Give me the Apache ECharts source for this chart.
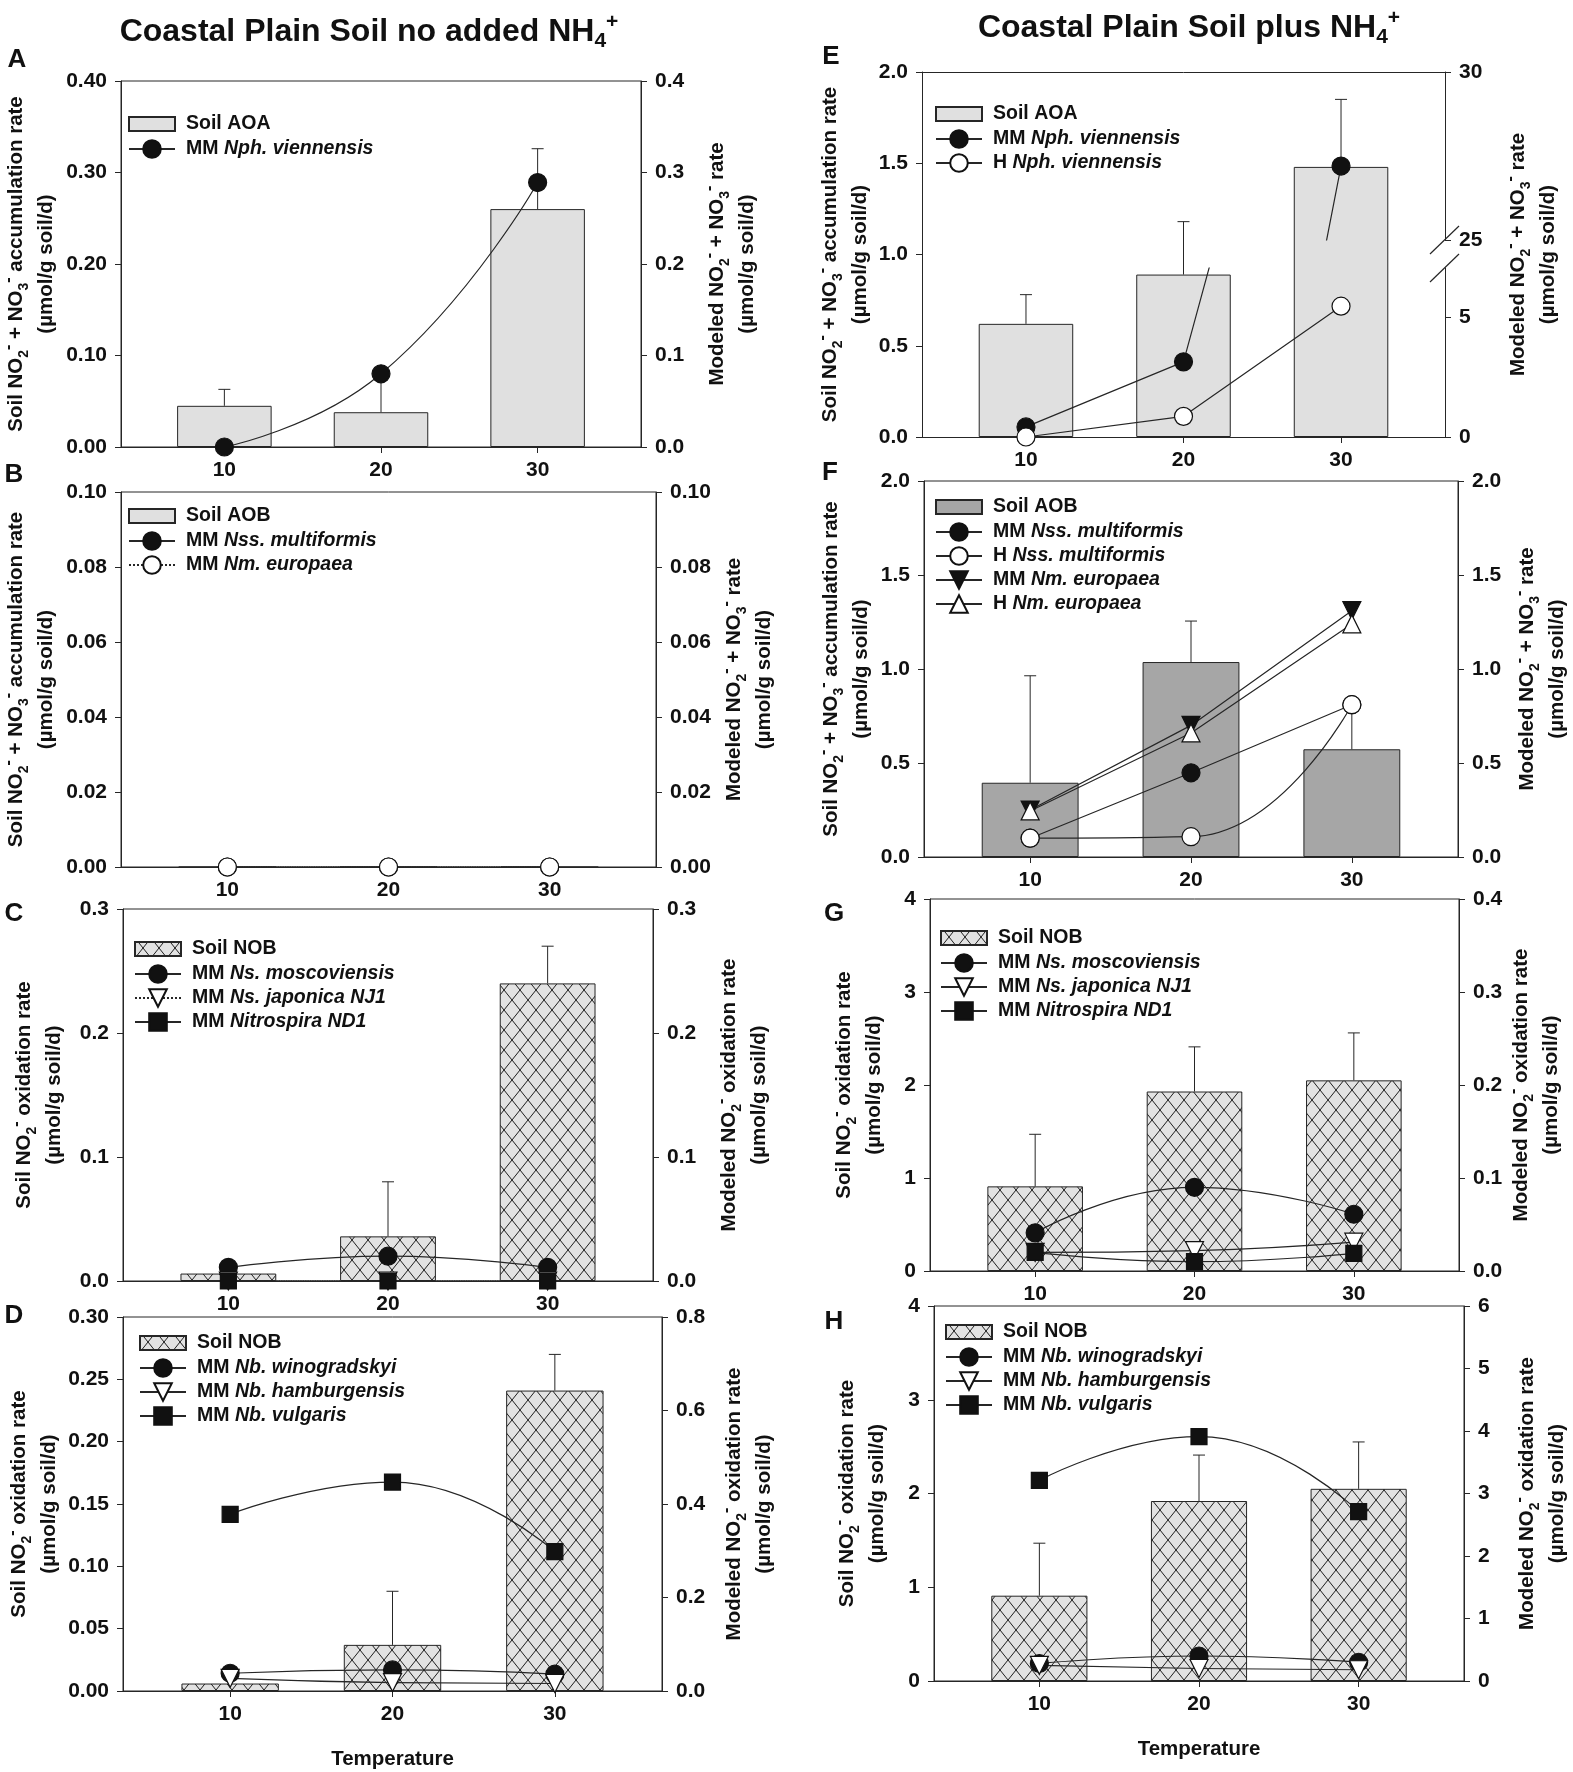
<!DOCTYPE html>
<html><head><meta charset="utf-8">
<script src="https://cdn.jsdelivr.net/npm/echarts@6/dist/echarts.min.js"></script>
<style>html,body{margin:0;padding:0;background:#fff}#c{width:1573px;height:1772px}</style>
</head><body><div id="c"></div>
<script>
// ---------------- DATA ----------------
const temps = [10, 20, 30];

// A  Coastal plain soil, no added NH4+ : AOA
const aSoilAOA   = [0.045, 0.038, 0.260];
const aSoilAOAHi = [0.063, 0.073, 0.326];
const aMMNph     = [0.000, 0.080, 0.289];

// B  AOB
const bSoilAOB = [0, 0, 0];
const bMMNss   = [0, 0, 0];
const bMMNm    = [0, 0, 0];

// C  NOB (Nitrospira)
const cSoilNOB   = [0.006, 0.036, 0.240];
const cSoilNOBHi = [null, 0.080, 0.270];
const cMMNsMosc  = [0.011, 0.020, 0.011];
const cMMNsJap   = [0, 0, 0];
const cMMND1     = [0, 0, 0];

// D  NOB (Nitrobacter)
const dSoilNOB   = [0.006, 0.037, 0.241];
const dSoilNOBHi = [null, 0.080, 0.270];
const dMMNbWino  = [0.038, 0.045, 0.036];
const dMMNbHamb  = [0.027, 0.018, 0.016];
const dMMNbVulg  = [0.378, 0.447, 0.298];

// E  plus NH4+ : AOA
const eSoilAOA   = [0.62, 0.89, 1.48];
const eSoilAOAHi = [0.78, 1.18, 1.85];
const eMMNph     = [0.42, 3.13, 27.2];
const eHNph      = [0.00, 0.86, 5.45];

// F  AOB
const fSoilAOB   = [0.395, 1.037, 0.573];
const fSoilAOBHi = [0.964, 1.255, 0.780];
const fMMNss     = [0.100, 0.448, 0.810];
const fHNss      = [0.100, 0.108, 0.810];
const fMMNm      = [0.250, 0.700, 1.310];
const fHNm       = [0.245, 0.660, 1.240];

// G  NOB (Nitrospira)
const gSoilNOB   = [0.91, 1.93, 2.05];
const gSoilNOBHi = [1.47, 2.41, 2.56];
const gMMNsMosc  = [0.041, 0.090, 0.061];
const gMMNsJap   = [0.020, 0.022, 0.031];
const gMMND1     = [0.020, 0.010, 0.019];

// H  NOB (Nitrobacter)
const hSoilNOB   = [0.91, 1.92, 2.05];
const hSoilNOBHi = [1.47, 2.41, 2.55];
const hMMNbWino  = [0.28, 0.40, 0.30];
const hMMNbHamb  = [0.25, 0.20, 0.18];
const hMMNbVulg  = [3.21, 3.91, 2.71];

// ---------------- STYLE / LAYOUT ----------------
const INK = '#262626';
const TXT = '#111111';
const FONT = '"Liberation Sans", Arial, Helvetica, sans-serif';
const XMIN = 3.4, XMAX = 36.6;
const BAR_UNITS = 6;
const TICK_FS = 21;

function hatchPattern() {
  const c = document.createElement('canvas');
  c.width = 16; c.height = 20;
  const g = c.getContext('2d');
  g.fillStyle = '#e2e2e2'; g.fillRect(0, 0, 16, 20);
  g.strokeStyle = '#1e1e1e'; g.lineWidth = 1;
  g.beginPath();
  g.moveTo(-8, -10); g.lineTo(24, 30);
  g.moveTo(24, -10); g.lineTo(-8, 30);
  g.stroke();
  return { image: c, repeat: 'repeat' };
}
const HATCH = hatchPattern();
const LIGHT = '#e0e0e0';
const DARK = '#a6a6a6';

const SUBSUP = {
  s: { fontSize: 14, fontWeight: 'bold', fontFamily: FONT, color: TXT, lineHeight: 18, verticalAlign: 'bottom' },
  p: { fontSize: 16, fontWeight: 'bold', fontFamily: FONT, color: TXT, lineHeight: 18, verticalAlign: 'top' }
};
const NAME_STYLE = { fontFamily: FONT, fontSize: 20.5, fontWeight: 'bold', color: TXT, lineHeight: 30, rich: SUBSUP };

const N_ACC  = 'Soil NO{s|2}{p|-} + NO{s|3}{p|-} accumulation rate\n(\u00b5mol/g soil/d)';
const N_MACC = 'Modeled NO{s|2}{p|-} + NO{s|3}{p|-} rate\n(\u00b5mol/g soil/d)';
const N_OX   = 'Soil NO{s|2}{p|-} oxidation rate\n(\u00b5mol/g soil/d)';
const N_MOX  = 'Modeled NO{s|2}{p|-} oxidation rate\n(\u00b5mol/g soil/d)';

const grid = [], xAxis = [], yAxis = [], series = [], legend = [], graphic = [];

function addGrid(box, border) {
  grid.push({ left: box.left, top: box.top, width: box.width, height: box.height,
    show: !!border, borderColor: INK, borderWidth: 1, backgroundColor: 'transparent' });
  return grid.length - 1;
}
function xAx(gi, o) {
  o = o || {};
  xAxis.push({
    type: 'value', gridIndex: gi, min: XMIN, max: XMAX, position: o.position || 'bottom',
    show: o.show !== false,
    splitLine: { show: false },
    axisLine: { show: true, onZero: false, lineStyle: { color: INK, width: 1 } },
    axisTick: { show: !o.bare, customValues: temps, length: 6, lineStyle: { color: INK } },
    axisLabel: { show: !o.bare, customValues: temps, fontFamily: FONT, fontSize: TICK_FS, fontWeight: 'bold', color: TXT, margin: 13 },
    name: o.name || '', nameLocation: 'middle', nameGap: o.nameGap || 0,
    nameTextStyle: { fontFamily: FONT, fontSize: 20.5, fontWeight: 'bold', color: TXT }
  });
  return xAxis.length - 1;
}
function yAx(gi, pos, c) {
  yAxis.push({
    type: 'value', gridIndex: gi, position: pos, min: c.min, max: c.max, interval: c.interval,
    splitLine: { show: false },
    axisLine: { show: c.line !== false, onZero: false, lineStyle: { color: INK, width: 1 } },
    axisTick: { show: c.line !== false, length: 6, lineStyle: { color: INK } },
    axisLabel: { show: c.line !== false, formatter: v => v.toFixed(c.dec), fontFamily: FONT, fontSize: TICK_FS,
      fontWeight: 'bold', color: TXT, margin: 14, showMaxLabel: c.showMax === false ? false : null },
    name: c.name || '', nameLocation: 'middle', nameRotate: 90, nameGap: c.gap || 0, nameTextStyle: NAME_STYLE
  });
  return yAxis.length - 1;
}
function panel(box, L, R, xo) {
  const gi = addGrid(box, true);
  const xi = xAx(gi, xo);
  const yl = yAx(gi, 'left', L);
  const yr = yAx(gi, 'right', R);
  return { gi, xi, yl, yr, bw: box.width * BAR_UNITS / (XMAX - XMIN) };
}
const pts = v => temps.map((t, i) => [t, v[i]]);

function barS(name, P, vals, color) {
  series.push({ type: 'bar', name, xAxisIndex: P.xi, yAxisIndex: P.yl, data: pts(vals),
    barWidth: P.bw, itemStyle: { color, borderColor: INK, borderWidth: 1 }, z: 2, animation: false });
}
function errS(P, vals, hi) {
  const d = temps.map((t, i) => [t, vals[i], hi[i]]).filter(r => r[2] != null);
  series.push({ type: 'custom', name: 'err' + series.length, xAxisIndex: P.xi, yAxisIndex: P.yl, data: d, z: 3,
    encode: { x: 0, y: [1, 2] }, silent: true,
    renderItem: (params, api) => {
      const p0 = api.coord([api.value(0), api.value(1)]);
      const p1 = api.coord([api.value(0), api.value(2)]);
      return { type: 'group', children: [
        { type: 'line', shape: { x1: p0[0], y1: p0[1], x2: p1[0], y2: p1[1] }, style: { stroke: INK, lineWidth: 1 } },
        { type: 'line', shape: { x1: p1[0] - 6, y1: p1[1], x2: p1[0] + 6, y2: p1[1] }, style: { stroke: INK, lineWidth: 1 } }
      ] };
    } });
}
const SYM = {
  dot:   { symbol: 'circle',   size: 18, fill: '#111', rot: 0 },
  ring:  { symbol: 'circle',   size: 18, fill: '#fff', rot: 0 },
  tdn:   { symbol: 'triangle', size: 18, fill: '#111', rot: 180 },
  tdnO:  { symbol: 'triangle', size: 18, fill: '#fff', rot: 180 },
  tupO:  { symbol: 'triangle', size: 18, fill: '#fff', rot: 0 },
  sq:    { symbol: 'rect',     size: 16, fill: '#111', rot: 0 }
};
function lineS(name, xi, yi, vals, sym, o) {
  o = o || {};
  const s = SYM[sym];
  series.push({ type: 'line', name, xAxisIndex: xi, yAxisIndex: yi, data: pts(vals),
    smooth: o.smooth || false, symbol: s.symbol, symbolSize: s.size, symbolRotate: s.rot,
    itemStyle: { color: s.fill, borderColor: '#111', borderWidth: 1.2, opacity: 1 },
    lineStyle: { color: INK, width: 1.2, type: o.dash || 'solid' },
    clip: !!o.clip, z: 4, animation: false });
}

const LABELS = {};
const BAR_ICON = 'path://M0 0M46 22M0 4L46 4L46 18L0 18Z';
function leg(items, left, top) {
  items.forEach(it => LABELS[it[0]] = it[1]);
  legend.push({
    data: items.map(it => it[2] ? { name: it[0], icon: BAR_ICON } : { name: it[0] }),
    left, top, padding: 0, orient: 'vertical', itemWidth: 46, itemHeight: 22, itemGap: 2, selectedMode: false,
    formatter: n => LABELS[n],
    textStyle: { fontFamily: FONT, fontSize: 19.5, fontWeight: 'bold', color: TXT, lineHeight: 22, padding: [0, 0, 0, 6],
      rich: { i: { fontStyle: 'italic', fontWeight: 'bold', fontFamily: FONT, fontSize: 19.5, color: TXT, lineHeight: 22 } } }
  });
}

// ---------------- PANELS ----------------
// A
const PA = panel({ left: 118, top: 81, width: 523, height: 366 },
  { min: 0, max: 0.4, interval: 0.1, dec: 2, name: N_ACC, gap: 60 },
  { min: 0, max: 0.4, interval: 0.1, dec: 1, name: N_MACC, gap: 61 });
barS('A:AOA', PA, aSoilAOA, LIGHT);
errS(PA, aSoilAOA, aSoilAOAHi);
lineS('A:MMNph', PA.xi, PA.yr, aMMNph, 'dot', { smooth: true });
leg([['A:AOA', 'Soil AOA', 1], ['A:MMNph', 'MM {i|Nph. viennensis}']], 128, 112);

// B
const PB = panel({ left: 118, top: 492, width: 538, height: 375 },
  { min: 0, max: 0.1, interval: 0.02, dec: 2, name: N_ACC, gap: 60 },
  { min: 0, max: 0.1, interval: 0.02, dec: 2, name: N_MACC, gap: 63 });
barS('B:AOB', PB, bSoilAOB, LIGHT);
lineS('B:MMNss', PB.xi, PB.yr, bMMNss, 'dot');
lineS('B:MMNm', PB.xi, PB.yr, bMMNm, 'ring', { dash: 'dotted' });
leg([['B:AOB', 'Soil AOB', 1], ['B:MMNss', 'MM {i|Nss. multiformis}'], ['B:MMNm', 'MM {i|Nm. europaea}']], 128, 504);

// C
const PC = panel({ left: 123, top: 909, width: 530, height: 372 },
  { min: 0, max: 0.3, interval: 0.1, dec: 1, name: N_OX, gap: 54 },
  { min: 0, max: 0.3, interval: 0.1, dec: 1, name: N_MOX, gap: 61 });
barS('C:NOB', PC, cSoilNOB, HATCH);
errS(PC, cSoilNOB, cSoilNOBHi);
lineS('C:Mosc', PC.xi, PC.yr, cMMNsMosc, 'dot', { smooth: true });
lineS('C:Jap', PC.xi, PC.yr, cMMNsJap, 'tdnO', { dash: 'dotted' });
lineS('C:ND1', PC.xi, PC.yr, cMMND1, 'sq');
leg([['C:NOB', 'Soil NOB', 1], ['C:Mosc', 'MM {i|Ns. moscoviensis}'], ['C:Jap', 'MM {i|Ns. japonica NJ1}'],
     ['C:ND1', 'MM {i|Nitrospira ND1}']], 134, 937);

// D
const PD = panel({ left: 123, top: 1317, width: 539, height: 374 },
  { min: 0, max: 0.3, interval: 0.05, dec: 2, name: N_OX, gap: 58 },
  { min: 0, max: 0.8, interval: 0.2, dec: 1, name: N_MOX, gap: 57 },
  { name: 'Temperature', nameGap: 58 });
barS('D:NOB', PD, dSoilNOB, HATCH);
errS(PD, dSoilNOB, dSoilNOBHi);
lineS('D:Wino', PD.xi, PD.yr, dMMNbWino, 'dot', { smooth: true });
lineS('D:Hamb', PD.xi, PD.yr, dMMNbHamb, 'tdnO', { smooth: true });
lineS('D:Vulg', PD.xi, PD.yr, dMMNbVulg, 'sq', { smooth: true });
leg([['D:NOB', 'Soil NOB', 1], ['D:Wino', 'MM {i|Nb. winogradskyi}'], ['D:Hamb', 'MM {i|Nb. hamburgensis}'],
     ['D:Vulg', 'MM {i|Nb. vulgaris}']], 139, 1331);

// E  (right axis broken: 0-5 | 25-30)
const EBOX = { left: 922, top: 72, width: 523, height: 365 };
const ELOW = { left: 922, top: 268, width: 523, height: 169 };
const EUP  = { left: 922, top: 72, width: 523, height: 168 };
const eG = addGrid(EBOX, false);
const PE = { gi: eG, xi: xAx(eG), yl: yAx(eG, 'left', { min: 0, max: 2, interval: 0.5, dec: 1, name: N_ACC, gap: 41 }),
  bw: EBOX.width * BAR_UNITS / (XMAX - XMIN) };
yAx(eG, 'right', { min: 0, max: 2, interval: 0.5, dec: 1, line: false, name: N_MACC, gap: 58 });
const eLowG = addGrid(ELOW, false);
const eLowX = xAx(eLowG, { show: false });
const eLowY = yAx(eLowG, 'right', { min: 0, max: 7.04, interval: 5, dec: 0, showMax: false });
const eUpG = addGrid(EUP, false);
const eUpX = xAx(eUpG, { position: 'top', bare: true });
const eUpY = yAx(eUpG, 'right', { min: 25, max: 30, interval: 5, dec: 0 });
barS('E:AOA', PE, eSoilAOA, LIGHT);
errS(PE, eSoilAOA, eSoilAOAHi);
lineS('E:MMNph', eLowX, eLowY, eMMNph, 'dot', { clip: true });
lineS('E:MMNphUp', eUpX, eUpY, eMMNph, 'dot', { clip: true });
lineS('E:HNph', eLowX, eLowY, eHNph, 'ring', { clip: true });
leg([['E:AOA', 'Soil AOA', 1], ['E:MMNph', 'MM {i|Nph. viennensis}'], ['E:HNph', 'H {i|Nph. viennensis}']], 935, 102);
const axX = EBOX.left + EBOX.width;
const brk1 = EUP.top + EUP.height, brk2 = ELOW.top;
graphic.push({ type: 'line', shape: { x1: axX - 15, y1: brk1 + 14, x2: axX + 14, y2: brk1 - 14 }, style: { stroke: INK, lineWidth: 1.2 } });
graphic.push({ type: 'line', shape: { x1: axX - 15, y1: brk2 + 14, x2: axX + 14, y2: brk2 - 14 }, style: { stroke: INK, lineWidth: 1.2 } });

// F
const PF = panel({ left: 924, top: 481, width: 536, height: 376 },
  { min: 0, max: 2, interval: 0.5, dec: 1, name: N_ACC, gap: 48 },
  { min: 0, max: 2, interval: 0.5, dec: 1, name: N_MACC, gap: 54 });
barS('F:AOB', PF, fSoilAOB, DARK);
errS(PF, fSoilAOB, fSoilAOBHi);
lineS('F:MMNss', PF.xi, PF.yr, fMMNss, 'dot');
lineS('F:HNss', PF.xi, PF.yr, fHNss, 'ring', { smooth: true });
lineS('F:MMNm', PF.xi, PF.yr, fMMNm, 'tdn');
lineS('F:HNm', PF.xi, PF.yr, fHNm, 'tupO');
leg([['F:AOB', 'Soil AOB', 1], ['F:MMNss', 'MM {i|Nss. multiformis}'], ['F:HNss', 'H {i|Nss. multiformis}'],
     ['F:MMNm', 'MM {i|Nm. europaea}'], ['F:HNm', 'H {i|Nm. europaea}']], 935, 495);

// G
const PG = panel({ left: 930, top: 899, width: 529, height: 372 },
  { min: 0, max: 4, interval: 1, dec: 0, name: N_OX, gap: 41 },
  { min: 0, max: 0.4, interval: 0.1, dec: 1, name: N_MOX, gap: 47 });
barS('G:NOB', PG, gSoilNOB, HATCH);
errS(PG, gSoilNOB, gSoilNOBHi);
lineS('G:Mosc', PG.xi, PG.yr, gMMNsMosc, 'dot', { smooth: true });
lineS('G:Jap', PG.xi, PG.yr, gMMNsJap, 'tdnO', { smooth: true });
lineS('G:ND1', PG.xi, PG.yr, gMMND1, 'sq', { smooth: true });
leg([['G:NOB', 'Soil NOB', 1], ['G:Mosc', 'MM {i|Ns. moscoviensis}'], ['G:Jap', 'MM {i|Ns. japonica NJ1}'],
     ['G:ND1', 'MM {i|Nitrospira ND1}']], 940, 926);

// H
const PH = panel({ left: 934, top: 1306, width: 532, height: 375 },
  { min: 0, max: 4, interval: 1, dec: 0, name: N_OX, gap: 42 },
  { min: 0, max: 6, interval: 1, dec: 0, name: N_MOX, gap: 48 },
  { name: 'Temperature', nameGap: 58 });
barS('H:NOB', PH, hSoilNOB, HATCH);
errS(PH, hSoilNOB, hSoilNOBHi);
lineS('H:Wino', PH.xi, PH.yr, hMMNbWino, 'dot', { smooth: true });
lineS('H:Hamb', PH.xi, PH.yr, hMMNbHamb, 'tdnO', { smooth: true });
lineS('H:Vulg', PH.xi, PH.yr, hMMNbVulg, 'sq', { smooth: true });
leg([['H:NOB', 'Soil NOB', 1], ['H:Wino', 'MM {i|Nb. winogradskyi}'], ['H:Hamb', 'MM {i|Nb. hamburgensis}'],
     ['H:Vulg', 'MM {i|Nb. vulgaris}']], 945, 1320);

// ---------------- TITLES & LETTERS ----------------
const TRICH = {
  s: { fontSize: 21, fontWeight: 'bold', fontFamily: FONT, fill: TXT, lineHeight: 24, verticalAlign: 'bottom' },
  p: { fontSize: 21, fontWeight: 'bold', fontFamily: FONT, fill: TXT, lineHeight: 24, verticalAlign: 'top' }
};
function ttl(text, x, y) {
  graphic.push({ type: 'text', x, y, style: { text, fontFamily: FONT, fontSize: 32, fontWeight: 'bold', fill: TXT,
    align: 'center', verticalAlign: 'middle', lineHeight: 40, rich: TRICH } });
}
ttl('Coastal Plain Soil no added NH{s|4}{p|+}', 369, 32);
ttl('Coastal Plain Soil plus NH{s|4}{p|+}', 1189, 28);
[['A', 17, 60], ['B', 14, 475], ['C', 14, 914], ['D', 14, 1316],
 ['E', 831, 57], ['F', 830, 473], ['G', 834, 914], ['H', 834, 1322]].forEach(l => {
  graphic.push({ type: 'text', x: l[1], y: l[2], style: { text: l[0], fontFamily: FONT, fontSize: 26, fontWeight: 'bold',
    fill: TXT, align: 'center', verticalAlign: 'middle' } });
});

const chart = echarts.init(document.getElementById('c'), null, { renderer: 'canvas', width: 1573, height: 1772 });
chart.setOption({ animation: false, backgroundColor: '#ffffff', grid, xAxis, yAxis, series, legend, graphic });
</script></body></html>
